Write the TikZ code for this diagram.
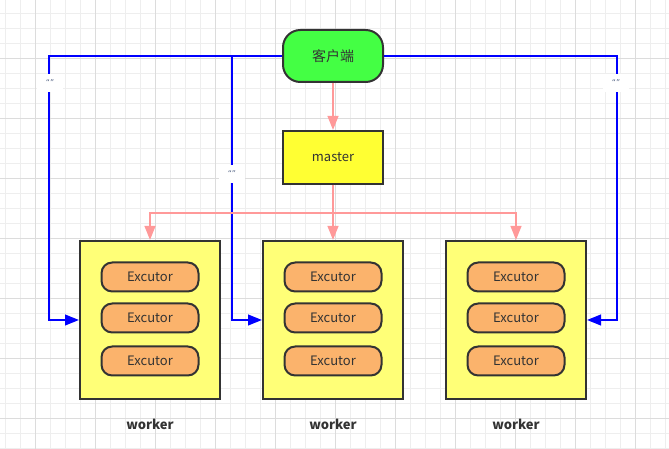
\documentclass[tikz,border=0pt]{standalone}
\usepackage{fontspec}
\setmainfont{Noto Sans CJK SC}
\newfontfamily\tagfont{DejaVu Sans}
\usetikzlibrary{arrows.meta}
\definecolor{gridminor}{HTML}{EEEEEE}
\definecolor{gridmajor}{HTML}{DCDCDC}
\definecolor{edge}{HTML}{333333}
\definecolor{txt}{HTML}{333333}
\definecolor{clientfill}{HTML}{44FF44}
\definecolor{masterfill}{HTML}{FFFF33}
\definecolor{workerfill}{HTML}{FFFF77}
\definecolor{excfill}{HTML}{FBB36C}
\definecolor{pinkline}{HTML}{FF9999}
\definecolor{tagtxt}{HTML}{5A6A8A}
\begin{document}
\begin{tikzpicture}[x=0.75pt,y=-0.75pt,>={Triangle[length=10.5pt,width=8pt]},font=\fontsize{9.75}{12}\selectfont,
		box/.style={draw=edge,line width=1.5pt,text=txt,inner sep=0pt},
		workerbox/.style={box,fill=workerfill,minimum width=105pt,minimum height=118.5pt},
		excbox/.style={box,fill=excfill,rounded corners=8pt,minimum width=72.75pt,minimum height=21.75pt},
		blueline/.style={draw=blue,line width=1.5pt,->},
		pinkarrow/.style={draw=pinkline,line width=1.5pt,->},
		tag/.style={fill=white,text=tagtxt,font=\tagfont\fontsize{6}{7}\selectfont,minimum width=20pt,minimum height=13.5pt,inner sep=0pt}]
	\useasboundingbox[fill=white] (0,0) rectangle (669,449);
	% grid
	\foreach \x in {5,20,...,665} \draw[gridminor,line width=0.75pt] (\x,0)--(\x,449);
	\foreach \y in {14,29,...,449} \draw[gridminor,line width=0.75pt] (0,\y)--(669,\y);
	\foreach \x in {35,95,...,665} \draw[gridmajor,line width=0.75pt] (\x,0)--(\x,449);
	\foreach \y in {59,119,...,449} \draw[gridmajor,line width=0.75pt] (0,\y)--(669,\y);
	% nodes
	\node[box,fill=clientfill,rounded corners=13pt,minimum width=75pt,minimum height=39pt,font=\fontsize{10.5}{12}\selectfont] (client) at (333,56) {客户端};
	\node[box,fill=masterfill,minimum width=75pt,minimum height=39.75pt] (master) at (333,157.5) {master};
	\foreach \n/\x in {1/150,2/333,3/516}{
		\node[workerbox] (w\n) at (\x,320) {};
		\node[excbox] (e\n a) at (\x,277) {Excutor};
		\node[excbox] (e\n b) at (\x,318) {Excutor};
		\node[excbox] (e\n c) at (\x,361) {Excutor};
		\node[text=txt,font=\fontsize{9.75}{12}\selectfont\bfseries] (wl\n) at (\x,424) {worker};
	}
	% client -> workers
	\coordinate (split) at (232,56);
	\draw[blueline] (client.west) -| ([xshift=-22.5pt]w1.west) -- (w1.west);
	\draw[blueline] (split) |- (w2.west);
	\draw[blueline] (client.east) -| ([xshift=22.5pt]w3.east) -- (w3.east);
	\node[tag] (t1) at (50,83) {“”};
	\node[tag] (t2) at (232,174) {“”};
	\node[tag] (t3) at (616,83) {“”};
	% client -> master -> workers
	\draw[pinkarrow] (client) -- (master);
	\draw[pinkarrow] (master) -- (w2);
	\draw[pinkarrow] (master.south) -- ++(0,28) -| (w1.north);
	\draw[pinkarrow] (master.south) -- ++(0,28) -| (w3.north);
\end{tikzpicture}
\end{document}
